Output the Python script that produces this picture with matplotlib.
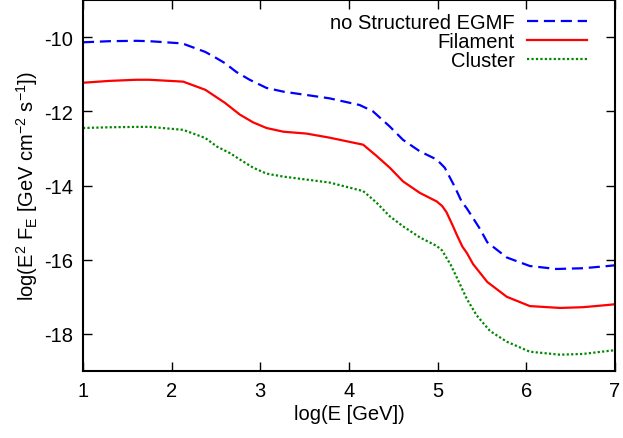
import matplotlib
matplotlib.use("Agg")
import matplotlib.pyplot as plt

plt.rcParams['font.family'] = ['Liberation Sans', 'DejaVu Sans']
plt.rcParams['mathtext.fontset'] = 'custom'
plt.rcParams['mathtext.rm'] = 'Liberation Sans'
plt.rcParams['mathtext.it'] = 'Liberation Sans'

# data
x_blue = [1.0, 1.3, 1.6, 1.75, 2.12, 2.38, 2.5, 2.6, 2.73, 2.88, 3.07, 3.26, 3.52, 3.78, 4.12, 4.27,
          4.46, 4.61, 4.8, 4.99, 5.08, 5.19, 5.27, 5.33, 5.4, 5.48, 5.56, 5.78, 6.04, 6.34, 6.64, 6.92, 7.0]
y_blue = [-10.14, -10.11, -10.1, -10.11, -10.17, -10.4, -10.56, -10.7, -10.94, -11.15, -11.37, -11.47,
          -11.56, -11.65, -11.83, -12.0, -12.41, -12.77, -13.08, -13.3, -13.52, -14.02, -14.43, -14.62,
          -14.88, -15.18, -15.53, -15.94, -16.17, -16.25, -16.23, -16.17, -16.15]

x_red = [1.0, 1.3, 1.6, 1.75, 2.13, 2.38, 2.6, 2.77, 2.92, 3.07, 3.26, 3.52, 3.78, 4.16, 4.31, 4.46,
         4.61, 4.8, 4.99, 5.05, 5.1, 5.17, 5.22, 5.28, 5.33, 5.4, 5.48, 5.56, 5.78, 6.04, 6.38, 6.64, 6.92, 7.0]
y_red = [-11.23, -11.18, -11.15, -11.15, -11.2, -11.42, -11.77, -12.09, -12.3, -12.45, -12.55, -12.6,
         -12.71, -12.9, -13.2, -13.52, -13.89, -14.2, -14.43, -14.55, -14.72, -15.08, -15.35, -15.65,
         -15.82, -16.12, -16.36, -16.6, -17.0, -17.25, -17.3, -17.28, -17.22, -17.2]

x_green = [1.0, 1.3, 1.6, 1.755, 2.13, 2.38, 2.51, 2.66, 2.77, 2.92, 3.07, 3.26, 3.52, 3.78, 4.16, 4.31,
           4.46, 4.61, 4.8, 4.99, 5.05, 5.1, 5.15, 5.21, 5.33, 5.44, 5.59, 5.78, 6.04, 6.38, 6.64, 6.92, 7.0]
y_green = [-12.45, -12.43, -12.42, -12.42, -12.5, -12.72, -12.95, -13.13, -13.3, -13.52, -13.68, -13.76,
           -13.84, -13.92, -14.15, -14.46, -14.83, -15.1, -15.4, -15.63, -15.75, -15.95, -16.15, -16.45,
           -17.06, -17.5, -17.92, -18.21, -18.48, -18.56, -18.54, -18.46, -18.44]

labels = ['no Structured EGMF', 'Filament', 'Cluster']
xticks = [1, 2, 3, 4, 5, 6, 7]
yticks = [-18, -16, -14, -12, -10]

fs = 14.5

fig = plt.figure(figsize=(6.23, 4.39), dpi=100)
ax = fig.add_axes([0.1332, 0.1526, 0.8539, 0.8451])

ax.plot(x_blue, y_blue, color='#0000ff', lw=1.6, linestyle=(0, (5, 2.6)), label=labels[0])
ax.plot(x_red, y_red, color='#ff0000', lw=1.6, linestyle='-', label=labels[1])
ax.plot(x_green, y_green, color='#008800', lw=1.6, linestyle=(0, (1, 1)), label=labels[2])

ax.set_xlim(1, 7)
ax.set_ylim(-19, -9)
ax.set_xticks(xticks)
ax.set_yticks(yticks)
ax.set_yticklabels([str(v) for v in yticks])
ax.tick_params(direction='in', top=True, right=True, length=6.5, width=1.0, labelsize=fs, pad=7)
for s in ax.spines.values():
    s.set_linewidth(1.5)

ax.set_xlabel('log(E [GeV])', fontsize=fs, labelpad=3)
ax.set_ylabel('log(E$^{2}$ F$_{E}$ [GeV cm$^{-2}$ s$^{-1}$])', fontsize=fs, labelpad=3)

leg = ax.legend(loc='upper right', bbox_to_anchor=(0.972, 1.0), frameon=False, markerfirst=False,
                fontsize=fs, handlelength=3.0, labelspacing=0.0, borderaxespad=0.25, handletextpad=0.6)

fig.savefig('out.png', dpi=100)
